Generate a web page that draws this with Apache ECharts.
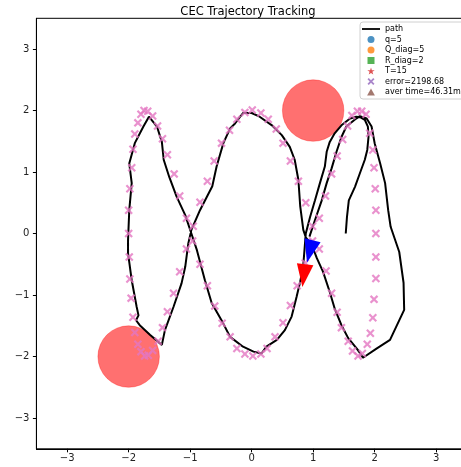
<!DOCTYPE html>
<html>
<head>
<meta charset="utf-8">
<script src="https://cdn.jsdelivr.net/npm/echarts@6.0.0/dist/echarts.min.js"></script>
<style>
html,body{margin:0;padding:0;background:#fff;}
#chart{width:461px;height:467px;}
</style>
</head>
<body>
<div id="chart"></div>
<script>
// ---- data ----
const xTicks = [-3, -2, -1, 0, 1, 2, 3];
const yTicks = [-3, -2, -1, 0, 1, 2, 3];

// robot path (black line)
const pathX = [1.53,1.55,1.58,1.68,1.76,1.84,1.88,1.90,1.89,1.84,1.77,1.70,
 1.60,1.46,1.35,1.27,1.22,1.19,1.11,1.03,0.95,0.88,
 0.84,0.79,0.73,0.65,0.54,0.41,0.24,0.16,0.03,-0.14,-0.35,-0.49,-0.65,-0.76,-0.89,-0.98,
 -1.08,-1.22,-1.34,-1.43,-1.46,-1.54,-1.67,-1.76,-1.90,-1.99,-1.95,-1.99,-2.01,-2.01,-1.95,-1.87,-1.84,-1.88,-1.82,-1.65,-1.46,
 -1.41,-1.27,-1.14,-1.08,-1.03,-0.98,-0.84,-0.64,-0.57,-0.46,-0.35,-0.27,-0.14,0.00,0.13,0.33,0.49,0.62,0.70,0.76,0.79,0.84,0.88,
 0.98,1.06,1.16,1.27,1.35,1.46,1.57,1.71,1.76,1.81,
 2.03,2.25,2.48,2.47,2.40,2.26,2.22,2.17,2.09,2.00,1.95,1.87,1.76,
 1.70,1.54,1.46,1.38,1.30,1.22,1.14,1.03,0.94];
const pathY = [0.00,0.27,0.54,0.76,0.98,1.20,1.36,1.57,1.74,1.85,1.89,1.90,
 1.87,1.76,1.63,1.49,1.33,1.09,0.82,0.54,0.27,0.00,
 -0.51,-0.78,-1.03,-1.35,-1.57,-1.73,-1.84,-1.95,-1.92,-1.84,-1.68,-1.41,-1.13,-0.76,-0.27,0.00,
 0.30,0.60,0.92,1.20,1.49,1.74,1.90,1.74,1.47,1.14,0.82,0.38,-0.11,-0.32,-0.76,-1.19,-1.33,-1.41,-1.49,-1.65,-1.81,
 -1.57,-1.19,-0.81,-0.54,-0.16,0.06,0.38,0.77,1.09,1.47,1.71,1.79,1.96,1.96,1.90,1.76,1.60,1.41,1.20,0.87,0.44,0.06,-0.06,
 -0.19,-0.40,-0.62,-0.95,-1.22,-1.49,-1.70,-1.87,-1.94,-2.02,
 -1.87,-1.73,-1.24,-0.80,-0.30,0.11,0.38,0.82,1.14,1.47,1.74,1.87,1.91,
 1.87,1.74,1.57,1.33,1.06,0.82,0.54,0.22,-0.05];

// reference trajectory points (pink x)
const refX = [1.57,1.64,1.73,1.80,1.88,1.93,1.97,1.99,2.02,2.02,
 2.02,2.02,2.01,1.99,1.97,1.92,1.86,1.79,1.72,1.63,
 1.56,1.48,1.39,1.30,1.20,1.10,0.99,0.87,0.74,0.63,
 0.51,0.38,0.25,0.15,0.02,-0.11,-0.24,-0.35,-0.48,-0.60,
 -0.72,-0.84,-0.96,-1.06,-1.17,-1.26,-1.37,-1.45,-1.53,-1.61,
 -1.69,-1.75,-1.80,-1.85,-1.90,-1.93,-1.95,-1.98,-2.00,-2.00,
 -1.99,-1.98,-1.96,-1.93,-1.90,-1.85,-1.80,-1.74,-1.68,-1.61,
 -1.52,-1.45,-1.37,-1.27,-1.17,-1.06,-0.95,-0.84,-0.72,-0.61,
 -0.49,-0.36,-0.24,-0.11,0.01,0.15,0.27,0.40,0.51,0.63,
 0.76,0.88,0.99,1.10,1.21,1.30,1.39,1.46];
const refY = [-1.75,-1.91,-1.99,-1.95,-1.80,-1.62,-1.37,-1.07,-0.73,-0.38,
 0.00,0.38,0.73,1.07,1.36,1.63,1.94,1.99,1.99,1.92,
 1.75,1.53,1.26,0.97,0.61,0.25,-0.12,-0.48,-0.85,-1.17,
 -1.45,-1.68,-1.87,-1.96,-1.99,-1.96,-1.87,-1.68,-1.46,-1.18,
 -0.85,-0.50,-0.12,0.25,0.61,0.97,1.28,1.54,1.75,1.91,
 1.99,2.00,1.94,1.80,1.62,1.37,1.07,0.73,0.38,0.00,
 -0.38,-0.74,-1.05,-1.36,-1.61,-1.80,-1.92,-1.99,-1.98,-1.90,
 -1.75,-1.53,-1.27,-0.97,-0.62,-0.25,0.12,0.51,0.85,1.18,
 1.47,1.68,1.86,1.97,2.01,1.96,1.86,1.70,1.47,1.18,
 0.85,0.50,0.12,-0.25,-0.61,-0.97,-1.28,-1.53];

// obstacles
const obsX = [-2, 1];
const obsY = [-2, 2];
const obsR = [0.5, 0.5];

// heading arrows (robot = blue, reference = red): base x, y, yaw (deg)
const arrowX = [0.99, 0.87];
const arrowY = [-0.11, -0.50];
const arrowYaw = [-104, -97];

// legend labels
const legendNames = ['path', 'q=5', 'Q_diag=5', 'R_diag=2', 'T=15', 'error=2198.68', 'aver time=46.31ms'];

// ---- chart ----
const FONT = 'DejaVu Sans';
const X_SYM = 'path://M0,1.8L1.8,0L5,3.2L8.2,0L10,1.8L6.8,5L10,8.2L8.2,10L5,6.8L1.8,10L0,8.2L3.2,5Z';
const STAR_SYM = 'path://M5,0L6.2,3.6L10,3.6L6.9,5.9L8.1,9.5L5,7.3L1.9,9.5L3.1,5.9L0,3.6L3.8,3.6Z';
const LINE_SYM = 'path://M0,0L18,0L18,1.8L0,1.8Z';
const SQ_SYM = 'path://M0,0L10,0L10,10L0,10Z';
const TRI_SYM = 'path://M5,0L10,9L0,9Z';
const arrowColors = ['#0000ff', '#ff0000'];
const HEAD_W = 0.27, HEAD_L = 0.37;

const fmt = v => (v < 0 ? '\u2212' + Math.abs(v) : String(v));

const chart = echarts.init(document.getElementById('chart'), null, {renderer: 'canvas'});

const legendSeries = [
  {name: legendNames[1], color: '#1f77b4', symbol: 'circle'},
  {name: legendNames[2], color: '#ff7f0e', symbol: 'circle'},
  {name: legendNames[3], color: '#2ca02c', symbol: SQ_SYM},
  {name: legendNames[4], color: '#d62728', symbol: STAR_SYM},
  {name: legendNames[5], color: '#9467bd', symbol: X_SYM},
  {name: legendNames[6], color: '#8c564b', symbol: TRI_SYM}
].map(s => ({
  type: 'scatter', name: s.name, data: [], symbol: s.symbol,
  itemStyle: {color: s.color}
}));

chart.setOption({
  animation: false,
  backgroundColor: '#fff',
  title: {
    text: 'CEC Trajectory Tracking',
    left: 243, top: 1, textAlign: 'center',
    textStyle: {fontFamily: FONT, fontSize: 11.5, fontWeight: 'normal', color: '#000'}
  },
  grid: {
    left: 36.4, top: 18.3, width: 430.5, height: 430.5,
    show: true, borderColor: '#000', borderWidth: 1, backgroundColor: 'transparent',
    outerBoundsMode: 'none', containLabel: false
  },
  legend: {
    orient: 'vertical', left: 360, top: 22,
    itemWidth: 18, itemHeight: 7, itemGap: 2.5,
    padding: [3, 4, 3, 2],
    borderColor: '#d0d0d0', borderWidth: 1, borderRadius: 3,
    backgroundColor: 'rgba(255,255,255,0.85)',
    symbolKeepAspect: true,
    textStyle: {fontFamily: FONT, fontSize: 8, color: '#000', lineHeight: 8},
    data: [
      {name: legendNames[0], icon: LINE_SYM},
      {name: legendNames[1], icon: 'circle'},
      {name: legendNames[2], icon: 'circle'},
      {name: legendNames[3], icon: SQ_SYM},
      {name: legendNames[4], icon: STAR_SYM},
      {name: legendNames[5], icon: X_SYM},
      {name: legendNames[6], icon: TRI_SYM}
    ]
  },
  xAxis: {
    type: 'value', min: -3.5, max: 3.5,
    splitLine: {show: false},
    axisLine: {show: true, onZero: false, lineStyle: {color: '#000', width: 1}},
    axisTick: {show: true, length: 3.5, lineStyle: {color: '#000'}, customValues: xTicks},
    axisLabel: {customValues: xTicks, formatter: fmt, margin: 5, fontFamily: FONT, fontSize: 10, color: '#222'}
  },
  yAxis: {
    type: 'value', min: -3.5, max: 3.5,
    splitLine: {show: false},
    axisLine: {show: true, onZero: false, lineStyle: {color: '#000', width: 1}},
    axisTick: {show: true, length: 3.5, lineStyle: {color: '#000'}, customValues: yTicks},
    axisLabel: {customValues: yTicks, formatter: fmt, margin: 7, fontFamily: FONT, fontSize: 10, color: '#222'}
  },
  series: [
    {
      type: 'custom', name: 'obstacles', z: 1,
      data: obsX.map((x, i) => [x, obsY[i], obsR[i]]),
      encode: {x: 0, y: 1},
      renderItem: (params, api) => {
        const c = api.coord([api.value(0), api.value(1)]);
        const r = api.size([api.value(2), api.value(2)])[0];
        return {type: 'circle', shape: {cx: c[0], cy: c[1], r: r},
          style: {fill: 'rgba(255,0,0,0.56)', stroke: 'rgba(255,0,0,0.3)', lineWidth: 1}};
      }
    },
    {
      type: 'line', name: 'path', z: 2,
      data: pathX.map((x, i) => [x, pathY[i]]),
      showSymbol: false, symbol: 'none',
      lineStyle: {color: '#000', width: 2},
      itemStyle: {color: '#000'}
    },
    {
      type: 'scatter', name: 'reference', z: 3,
      data: refX.map((x, i) => [x, refY[i]]),
      symbol: X_SYM, symbolSize: 8.5,
      itemStyle: {color: '#e377c2'}
    },
    {
      type: 'custom', name: 'arrows', z: 4,
      data: arrowX.map((x, i) => [x, arrowY[i], arrowYaw[i]]),
      encode: {x: 0, y: 1},
      renderItem: (params, api) => {
        const bx = api.value(0), by = api.value(1);
        const a = api.value(2) * Math.PI / 180;
        const dx = Math.cos(a), dy = Math.sin(a);
        const px = -dy, py = dx;
        const pts = [
          [bx + px * HEAD_W / 2, by + py * HEAD_W / 2],
          [bx + dx * HEAD_L, by + dy * HEAD_L],
          [bx - px * HEAD_W / 2, by - py * HEAD_W / 2]
        ].map(p => api.coord(p));
        return {type: 'polygon', shape: {points: pts},
          style: {fill: arrowColors[params.dataIndex]}};
      }
    }
  ].concat(legendSeries)
});
</script>
</body>
</html>
